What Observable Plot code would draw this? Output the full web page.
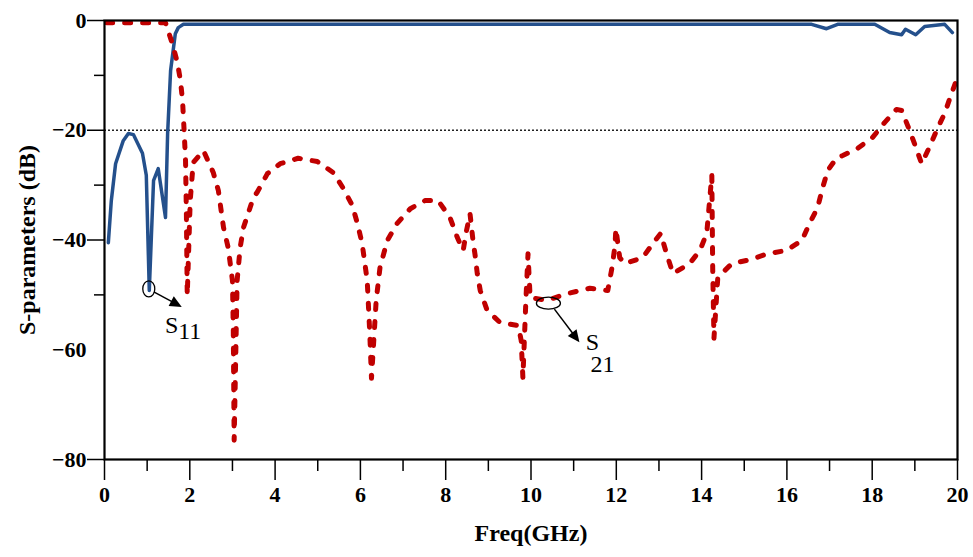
<!DOCTYPE html>
<html>
<head>
<meta charset="utf-8">
<script src="https://cdn.jsdelivr.net/npm/d3@7"></script>
<script src="https://cdn.jsdelivr.net/npm/@observablehq/plot@0.6"></script>
<style>
  html, body { margin: 0; padding: 0; background: #fff; }
</style>
</head>
<body>
<div id="chart"></div>
<script>
// ---- Data ----
const s11Freq = [0.09, 0.16, 0.26, 0.44, 0.56, 0.68, 0.89, 0.98, 1.05, 1.15, 1.26, 1.43, 1.48, 1.55, 1.66, 1.73, 1.85,
  16.58, 16.93, 17.19, 18.06, 18.41, 18.69, 18.78, 19.02, 19.23, 19.70, 19.88];
const s11Db = [-40.5, -32.8, -26.1, -21.9, -20.6, -20.8, -24.2, -28.2, -49.2, -29.2, -27.0, -35.9, -20.6, -9.1, -2.4, -1.3, -0.7,
  -0.7, -1.5, -0.7, -0.7, -2.2, -2.6, -1.6, -2.6, -1.1, -0.7, -2.2];

const s21Freq = [0.05, 1.43, 1.59, 1.71, 1.78, 1.83, 1.87, 1.90, 1.92, 1.94, 2.01, 2.08, 2.32, 2.55, 2.67, 2.79, 2.90, 3.00,
  3.02, 3.04, 3.11, 3.18, 3.26, 3.49, 3.58, 3.82, 4.12, 4.54, 4.99, 5.36, 5.60, 5.81, 5.93, 6.04, 6.16, 6.22, 6.26,
  6.37, 6.46, 6.63, 6.86, 7.17, 7.52, 7.82, 8.10, 8.27, 8.41, 8.48, 8.57, 8.64, 8.69, 8.74, 8.81, 8.97, 9.27, 9.70,
  9.77, 9.81, 9.88, 9.93, 9.98, 10.37, 10.84, 11.38, 11.80, 11.90, 11.97, 11.99, 12.08, 12.20, 12.62, 12.86, 13.04,
  13.19, 13.33, 13.72, 13.96, 14.12, 14.24, 14.26, 14.29, 14.38, 14.71, 15.13, 15.55, 15.99, 16.35, 16.53, 16.72,
  16.84, 16.96, 17.17, 17.31, 17.66, 18.01, 18.29, 18.57, 18.69, 18.83, 18.99, 19.16, 19.34, 19.53, 19.70, 19.86, 19.98];
const s21Db = [-0.4, -0.4, -4.2, -7.7, -10.9, -14.6, -20.6, -25.5, -35.2, -50.1, -32.8, -25.9, -23.7, -27.7, -31.0, -37.7, -41.4, -47.4,
  -56.5, -76.5, -47.4, -41.4, -37.7, -32.3, -31.3, -27.9, -26.1, -25.1, -25.7, -27.7, -30.6, -33.7, -37.0, -40.6, -47.4, -57.0, -65.2,
  -51.0, -45.0, -40.1, -37.0, -34.3, -32.8, -32.8, -35.9, -39.5, -41.9, -38.6, -35.2, -40.1, -42.8, -46.1, -49.2, -52.8, -55.0, -55.6,
  -58.3, -65.1, -51.0, -42.5, -50.5, -51.0, -49.8, -48.8, -49.2, -45.0, -41.0, -37.9, -43.2, -44.3, -43.2, -40.6, -38.8,
  -42.8, -46.1, -44.3, -41.9, -38.8, -28.2, -45.0, -57.9, -46.8, -44.3, -43.6, -42.5, -41.9, -40.1, -37.0, -34.1,
  -30.4, -27.3, -25.0, -24.6, -23.3, -21.3, -18.6, -16.2, -16.4, -19.1, -22.4, -26.1, -23.1, -19.7, -16.9, -13.3, -10.8];

// Tick values
const xMajorTicks = [0, 2, 4, 6, 8, 10, 12, 14, 16, 18, 20];
const xMinorTicks = [1, 3, 5, 7, 9, 11, 13, 15, 17, 19];
const yTickedLabels = [0, -20, -40, -80];
const yBareLabels = [-60];
const yMinorTicks = [-10, -30, -50];
const refLevel = [-20];

// Annotations (anchor point in data units)
const annotFreq = [1.05, 10.42];
const annotDb = [-49.0, -51.6];
const annotMain = ["S", "S"];
const annotSub = ["11", "21"];

// ---- Build tables ----
const s11 = s11Freq.map((f, i) => ({f, db: s11Db[i]}));
const s21 = s21Freq.map((f, i) => ({f, db: s21Db[i]}));

// pixel layout for annotation drawing (relative to anchor)
const annotLayout = [
  {rx: 6, ry: 8, a0: [5, 3], a1: [33, 18], s: [23, 44], sub: [41, 50]},
  {rx: 12, ry: 6, a0: [6, 6], a1: [31, 39], s: [44, 47], sub: [54, 69]}
];

const font = "'Liberation Serif', 'Times New Roman', serif";

function annotationMark(index, scales, values, dimensions, context) {
  const g = d3.create("svg:g").attr("font-family", font).attr("font-weight", "normal");
  annotFreq.forEach((f, i) => {
    const cx = scales.x(f), cy = scales.y(annotDb[i]);
    const L = annotLayout[i];
    g.append("ellipse").attr("cx", cx).attr("cy", cy).attr("rx", L.rx).attr("ry", L.ry)
      .attr("fill", "none").attr("stroke", "black").attr("stroke-width", 1.3);
    const x0 = cx + L.a0[0], y0 = cy + L.a0[1], x1 = cx + L.a1[0], y1 = cy + L.a1[1];
    const dx = x1 - x0, dy = y1 - y0, len = Math.hypot(dx, dy);
    const ux = dx / len, uy = dy / len, nx = -uy, ny = ux;
    const hl = 12, hw = 5.5;
    g.append("line").attr("x1", x0).attr("y1", y0).attr("x2", x1 - ux * hl * 0.8).attr("y2", y1 - uy * hl * 0.8)
      .attr("stroke", "black").attr("stroke-width", 1.5);
    g.append("path").attr("d", `M${x1},${y1}L${x1 - ux * hl + nx * hw},${y1 - uy * hl + ny * hw}L${x1 - ux * hl - nx * hw},${y1 - uy * hl - ny * hw}Z`)
      .attr("fill", "black");
    g.append("text").attr("x", cx + L.s[0]).attr("y", cy + L.s[1]).attr("font-size", 24).attr("font-weight", "normal").attr("fill", "black").text(annotMain[i]);
    g.append("text").attr("x", cx + L.sub[0]).attr("y", cy + L.sub[1]).attr("font-size", 24).attr("font-weight", "normal").attr("fill", "black").text(annotSub[i]);
  });
  return g.node();
}

const chart = Plot.plot({
  width: 973,
  height: 557,
  marginLeft: 104,
  marginRight: 16,
  marginTop: 20,
  marginBottom: 98,
  style: {fontFamily: font, fontSize: "22px", fontWeight: "bold", background: "white", color: "black", overflow: "visible"},
  x: {domain: [0, 20]},
  y: {domain: [-80, 0]},
  marks: [
    Plot.ruleY(refLevel, {stroke: "#222", strokeWidth: 1.3, strokeDasharray: "2,2"}),
    Plot.line(s11, {x: "f", y: "db", stroke: "#24508c", strokeWidth: 3.5, strokeLinejoin: "round"}),
    Plot.line(s21, {x: "f", y: "db", stroke: "#c00000", strokeWidth: 5, strokeDasharray: "6,12", strokeLinecap: "round", strokeLinejoin: "round"}),
    Plot.frame({stroke: "black", strokeWidth: 2.2}),
    Plot.axisX(xMajorTicks, {tickSize: 21, tickPadding: 6, label: null, stroke: "black", strokeWidth: 1.5, fontSize: 22, fontWeight: "bold"}),
    Plot.axisX(xMinorTicks, {tickSize: 12, tickFormat: () => "", label: null, stroke: "black", strokeWidth: 1.5}),
    Plot.axisY(yTickedLabels, {tickSize: 17, tickPadding: 1, label: null, stroke: "black", strokeWidth: 1.5, fontSize: 22, fontWeight: "bold"}),
    Plot.axisY(yBareLabels, {tickSize: 0, tickPadding: 18, label: null, fontSize: 22, fontWeight: "bold"}),
    Plot.axisY(yMinorTicks, {tickSize: 10, tickFormat: () => "", label: null, stroke: "black", strokeWidth: 1.5}),
    Plot.text(["Freq(GHz)"], {frameAnchor: "bottom", dy: 81, fontSize: 24, fontWeight: "bold", fill: "black"}),
    Plot.text(["S-parameters (dB)"], {frameAnchor: "left", dx: -77, rotate: -90, textAnchor: "middle", fontSize: 24, fontWeight: "bold", fill: "black"}),
    annotationMark
  ]
});

document.getElementById("chart").appendChild(chart);
</script>
</body>
</html>
